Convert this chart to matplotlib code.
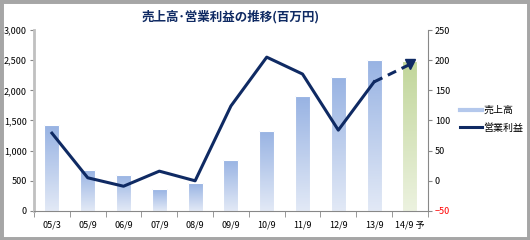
import numpy as np
import matplotlib.pyplot as plt
from matplotlib.colors import LinearSegmentedColormap
from matplotlib.lines import Line2D

plt.rcParams['font.family'] = ['Noto Sans CJK JP', 'DejaVu Sans']

labels = ['05/3', '05/9', '06/9', '07/9', '08/9', '09/9', '10/9', '11/9', '12/9', '13/9', '14/9 予']
sales = [1420, 680, 600, 360, 460, 850, 1330, 1900, 2220, 2510, 2490]
profit = [79, 5, -9, 16, 0, 124, 205, 177, 84, 164, 193]

navy = '#0F2A63'
blue_cm = LinearSegmentedColormap.from_list('b', ['#E2E9F6', '#98B3E3'])
green_cm = LinearSegmentedColormap.from_list('g', ['#ECF2DF', '#C1D69A'])

fig = plt.figure(figsize=(5.3, 2.4), dpi=100)
fig.patches.append(plt.Rectangle((0, 0), 1, 1, transform=fig.transFigure,
                                 fill=False, ec='#A6A6A6', lw=5))
ax = fig.add_axes([0.0642, 0.121, 0.743, 0.754])
x = np.arange(len(labels))
bars = ax.bar(x, sales, width=0.42, color='none', ec='white', lw=0.8, zorder=2)
grad = np.linspace(0, 1, 100).reshape(-1, 1)
for i, b in enumerate(bars):
    cm = green_cm if i == len(bars) - 1 else blue_cm
    im = ax.imshow(grad, cmap=cm, origin='lower', aspect='auto', zorder=1,
                   extent=[b.get_x(), b.get_x() + b.get_width(), 0, b.get_height()])
    im.set_clip_path(b)

ax.set_xlim(-0.5, len(labels) - 0.5)
ax.set_ylim(0, 3000)
ax.set_yticks(range(0, 3001, 500))
ax.set_yticklabels([f'{v:,}' for v in range(0, 3001, 500)])
ax.set_xticks(x)
ax.set_xticklabels(labels)
ax.set_xticks(np.arange(-0.5, len(labels), 1), minor=True)
ax.tick_params(axis='x', which='major', length=0, pad=7, labelsize=6.5)
ax.tick_params(axis='x', which='minor', length=4, color='#888888')
ax.tick_params(axis='y', labelsize=6.5, length=3, color='#888888', pad=2)
for s in ['top', 'right']:
    ax.spines[s].set_visible(False)
ax.spines['left'].set_color('#C0C0C0')
ax.spines['left'].set_linewidth(2)
ax.spines['bottom'].set_color('#888888')

ax2 = ax.twinx()
ax2.set_ylim(-50, 250)
ax2.set_yticks(range(-50, 251, 50))
ax2.tick_params(axis='y', labelsize=6.5, length=3, color='#888888', pad=2)
ax2.get_yticklabels()[0].set_color('red')
for s in ['top', 'left', 'bottom']:
    ax2.spines[s].set_visible(False)
ax2.spines['right'].set_color('#888888')
ax2.plot(x[:-1], profit[:-1], color=navy, lw=2.2, zorder=3)
ax2.plot(x[-2:], profit[-2:], color=navy, lw=2.2, ls=(0, (3, 2)), zorder=3)
ax2.plot(x[-1], profit[-1], marker='v', color=navy, ms=7, zorder=4)

fig.text(0.435, 0.93, '売上高･営業利益の推移(百万円)', ha='center', va='center',
         fontsize=9, fontweight='bold', color=navy)

handles = [Line2D([], [], color='#B4C8EC', lw=3), Line2D([], [], color=navy, lw=2.2)]
fig.legend(handles, ['売上高', '営業利益'], loc='center left', bbox_to_anchor=(0.868, 0.505),
           frameon=False, fontsize=7.2, handlelength=2.2, handletextpad=0.15,
           labelspacing=0.75, borderpad=0, borderaxespad=0)

fig.savefig('out.png', dpi=100)
